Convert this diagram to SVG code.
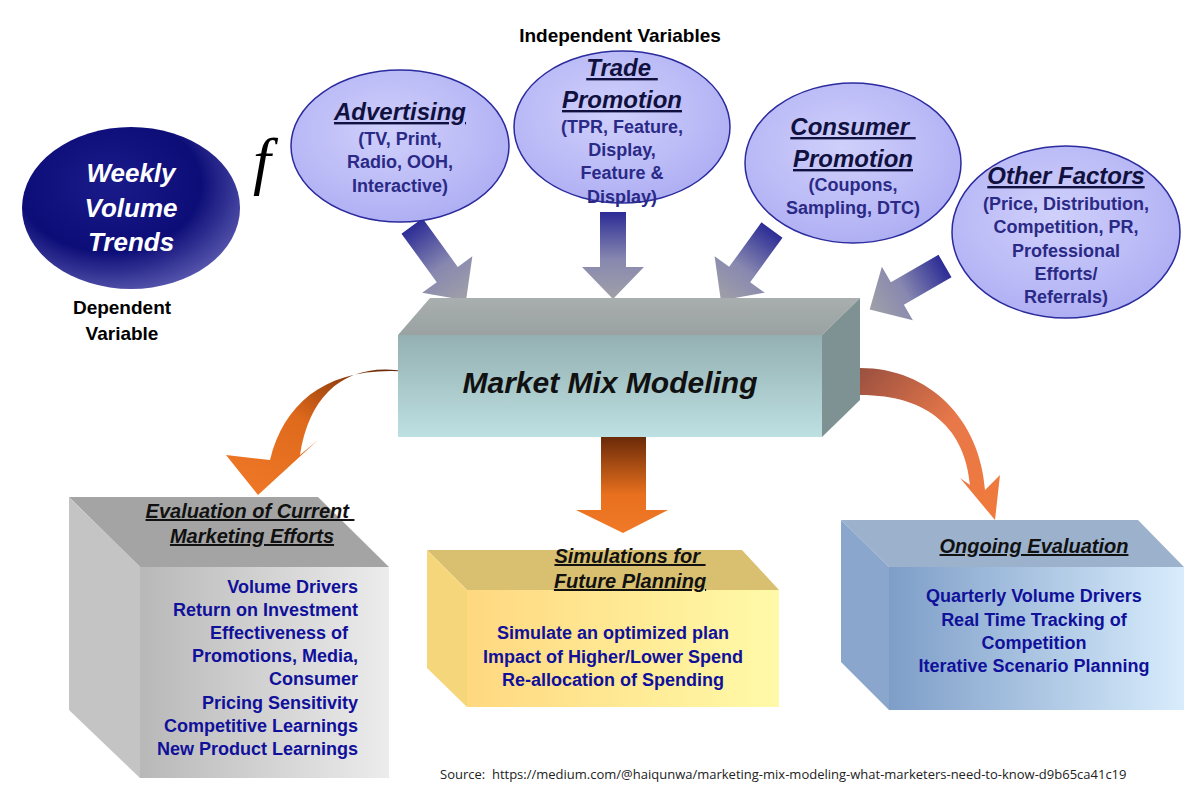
<svg xmlns="http://www.w3.org/2000/svg" width="1200" height="793" viewBox="0 0 1200 793">
<defs>
<radialGradient id="gW" cx="0.4" cy="0.35" r="0.7"><stop offset="0" stop-color="#1a1a8a"/><stop offset="0.6" stop-color="#0d0d78"/><stop offset="1" stop-color="#5a5ab0"/></radialGradient>
<radialGradient id="gI" cx="0.45" cy="0.4" r="0.7"><stop offset="0" stop-color="#d0d0fb"/><stop offset="0.7" stop-color="#b6b6f6"/><stop offset="1" stop-color="#a8a8f0"/></radialGradient>
<linearGradient id="gArr" x1="0" y1="0" x2="1" y2="0"><stop offset="0" stop-color="#2c2c96"/><stop offset="0.55" stop-color="#8888b0"/><stop offset="1" stop-color="#a0a0a8"/></linearGradient>
<linearGradient id="gTop" x1="0" y1="0" x2="0" y2="1"><stop offset="0" stop-color="#a9aeae"/><stop offset="1" stop-color="#9aa2a2"/></linearGradient>
<linearGradient id="gFront" x1="0" y1="0" x2="0" y2="1"><stop offset="0" stop-color="#94b0b2"/><stop offset="1" stop-color="#bde0e2"/></linearGradient>
<linearGradient id="gOr" x1="0" y1="0" x2="0" y2="1"><stop offset="0" stop-color="#6a2a08"/><stop offset="0.6" stop-color="#e8701e"/><stop offset="1" stop-color="#f07a28"/></linearGradient>
<linearGradient id="gOrL" x1="1" y1="0" x2="0" y2="1"><stop offset="0" stop-color="#5a2006"/><stop offset="0.5" stop-color="#e06a1c"/><stop offset="1" stop-color="#f07a28"/></linearGradient>
<linearGradient id="gOrR" x1="0" y1="0" x2="1" y2="1"><stop offset="0" stop-color="#9a5040"/><stop offset="0.5" stop-color="#e8784a"/><stop offset="1" stop-color="#f07a3a"/></linearGradient>
<linearGradient id="gGrayF" x1="0" y1="0" x2="1" y2="0"><stop offset="0" stop-color="#b8b8b8"/><stop offset="1" stop-color="#ececec"/></linearGradient>
<linearGradient id="gYelF" x1="0" y1="0" x2="1" y2="0"><stop offset="0" stop-color="#ffd880"/><stop offset="1" stop-color="#fffaa8"/></linearGradient>
<linearGradient id="gBluF" x1="0" y1="0" x2="1" y2="0"><stop offset="0" stop-color="#7e9ec8"/><stop offset="1" stop-color="#d8ecfc"/></linearGradient>
</defs>
<style>
.t{font-family:"Liberation Sans",Arial,sans-serif;font-weight:bold}
.blk{fill:#000;font-size:19px}
.ttl{fill:#111140;font-size:24px;font-style:italic;text-decoration:underline}
.sub{fill:#2a2a86;font-size:18px}
.btl{fill:#111;font-size:20px;font-style:italic;text-decoration:underline}
.bd{fill:#10109a;font-size:18px}
.ell{fill:url(#gI);stroke:#2b2b9e;stroke-width:1.5}
</style>
<rect width="1200" height="793" fill="#fff"/>
<g id="connectors">
<g fill="url(#gArr)">
<polygon points="0,-13 60,-13 60,-31 92,0 60,31 60,13 0,13" transform="translate(412,226) rotate(54)"/>
<polygon points="0,-13 55,-13 55,-31 87,0 55,31 55,13 0,13" transform="translate(613,212) rotate(90)"/>
<polygon points="0,-13 55,-13 55,-31 87,0 55,31 55,13 0,13" transform="translate(772,230) rotate(126)"/>
<polygon points="0,-13 55,-13 55,-31 87,0 55,31 55,13 0,13" transform="translate(945,266) rotate(150)"/>
</g>
<path d="M410,372 C350,360 310,390 300,455 L318,440 L258,495 L226,455 L270,460 C285,400 330,365 410,372 Z" fill="url(#gOrL)" transform="translate(0,0)"/>
<polygon points="601,437 646,437 646,510 668,510 623,533 576,510 601,510" fill="url(#gOr)"/>
<path d="M860,368 C930,368 980,420 985,490 L1000,475 L995,520 L960,478 L970,485 C965,430 930,395 860,395 Z" fill="url(#gOrR)"/>
</g>
<g id="weekly">
<ellipse cx="131" cy="208" rx="109" ry="81" fill="url(#gW)"/>
<text class="t" x="131" y="182" text-anchor="middle" fill="#fff" font-size="26" font-style="italic">Weekly</text>
<text class="t" x="131" y="217" text-anchor="middle" fill="#fff" font-size="26" font-style="italic">Volume</text>
<text class="t" x="131" y="251" text-anchor="middle" fill="#fff" font-size="26" font-style="italic">Trends</text>
<text class="t blk" x="122" y="314" text-anchor="middle">Dependent</text>
<text class="t blk" x="122" y="340" text-anchor="middle">Variable</text>
</g>
<text x="262" y="182" text-anchor="middle" font-family="Liberation Serif,serif" font-style="italic" font-size="64" fill="#000">f</text>
<text class="t blk" x="620" y="42" text-anchor="middle">Independent Variables</text>
<g id="advertising">
<ellipse class="ell" cx="400" cy="146" rx="109" ry="76"/>
<text class="t ttl" x="400" y="120" text-anchor="middle">Advertising</text>
<text class="t sub" x="400" y="145" text-anchor="middle">(TV, Print,</text>
<text class="t sub" x="400" y="168" text-anchor="middle">Radio, OOH,</text>
<text class="t sub" x="400" y="192" text-anchor="middle">Interactive)</text>
</g>
<g id="trade">
<ellipse class="ell" cx="622" cy="127" rx="108" ry="76"/>
<text class="t ttl" x="622" y="76" text-anchor="middle" xml:space="preserve">Trade </text>
<text class="t ttl" x="622" y="108" text-anchor="middle">Promotion</text>
<text class="t sub" x="622" y="133" text-anchor="middle">(TPR, Feature,</text>
<text class="t sub" x="622" y="156" text-anchor="middle">Display,</text>
<text class="t sub" x="622" y="179" text-anchor="middle">Feature &amp;</text>
<text class="t sub" x="622" y="203" text-anchor="middle">Display)</text>
</g>
<g id="consumer">
<ellipse class="ell" cx="853" cy="163" rx="108" ry="80"/>
<text class="t ttl" x="853" y="135" text-anchor="middle" xml:space="preserve">Consumer </text>
<text class="t ttl" x="853" y="167" text-anchor="middle">Promotion</text>
<text class="t sub" x="853" y="191" text-anchor="middle">(Coupons,</text>
<text class="t sub" x="853" y="214" text-anchor="middle">Sampling, DTC)</text>
</g>
<g id="other">
<ellipse class="ell" cx="1066" cy="232" rx="114" ry="86"/>
<text class="t ttl" x="1066" y="184" text-anchor="middle">Other Factors</text>
<text class="t sub" x="1066" y="210" text-anchor="middle">(Price, Distribution,</text>
<text class="t sub" x="1066" y="233" text-anchor="middle">Competition, PR,</text>
<text class="t sub" x="1066" y="257" text-anchor="middle">Professional</text>
<text class="t sub" x="1066" y="280" text-anchor="middle">Efforts/</text>
<text class="t sub" x="1066" y="303" text-anchor="middle">Referrals)</text>
</g>
<g id="mmm">
<polygon points="430,298 860,298 822,335 398,335" fill="url(#gTop)"/>
<polygon points="822,335 860,298 860,400 822,437" fill="#7f9293"/>
<rect x="398" y="335" width="424" height="102" fill="url(#gFront)"/>
<text class="t" x="610" y="393" text-anchor="middle" font-size="30" font-style="italic" fill="#111">Market Mix Modeling</text>
</g>
<g id="evaluation">
<polygon points="69,497 318,497 389,567 140,567" fill="#a4a4a4"/>
<polygon points="69,497 140,567 140,778 69,710" fill="#c4c4c4"/>
<rect x="140" y="567" width="249" height="211" fill="url(#gGrayF)"/>
<text class="t btl" x="250" y="518" text-anchor="middle" xml:space="preserve">Evaluation of Current </text>
<text class="t btl" x="252" y="543" text-anchor="middle">Marketing Efforts</text>
<g class="t bd" text-anchor="end">
<text x="358" y="593">Volume Drivers</text>
<text x="358" y="616">Return on Investment</text>
<text x="353" y="639" xml:space="preserve">Effectiveness of </text>
<text x="358" y="662">Promotions, Media,</text>
<text x="358" y="685">Consumer</text>
<text x="358" y="709">Pricing Sensitivity</text>
<text x="358" y="732">Competitive Learnings</text>
<text x="358" y="755">New Product Learnings</text>
</g>
</g>
<g id="simulations">
<polygon points="427,550 742,550 779,590 467,590" fill="#d8c070"/>
<polygon points="427,550 467,590 467,707 427,668" fill="#f6d67a"/>
<rect x="467" y="590" width="312" height="117" fill="url(#gYelF)"/>
<text class="t btl" x="630" y="563" text-anchor="middle" xml:space="preserve">Simulations for </text>
<text class="t btl" x="630" y="588" text-anchor="middle">Future Planning</text>
<g class="t bd" text-anchor="middle">
<text x="613" y="639">Simulate an optimized plan</text>
<text x="613" y="663">Impact of Higher/Lower Spend</text>
<text x="613" y="686">Re-allocation of Spending</text>
</g>
</g>
<g id="ongoing">
<polygon points="841,520 1138,520 1184,567 889,567" fill="#9cb2cc"/>
<polygon points="841,520 889,567 889,710 841,662" fill="#8aa6cc"/>
<rect x="889" y="567" width="295" height="143" fill="url(#gBluF)"/>
<text class="t btl" x="1034" y="553" text-anchor="middle">Ongoing Evaluation</text>
<g class="t bd" text-anchor="middle">
<text x="1034" y="602">Quarterly Volume Drivers</text>
<text x="1034" y="626">Real Time Tracking of</text>
<text x="1034" y="649">Competition</text>
<text x="1034" y="672">Iterative Scenario Planning</text>
</g>
</g>
<text x="440" y="779" font-family="Open Sans,sans-serif" font-size="13" fill="#222" xml:space="preserve">Source:  https://medium.com/@haiqunwa/marketing-mix-modeling-what-marketers-need-to-know-d9b65ca41c19</text>
</svg>
